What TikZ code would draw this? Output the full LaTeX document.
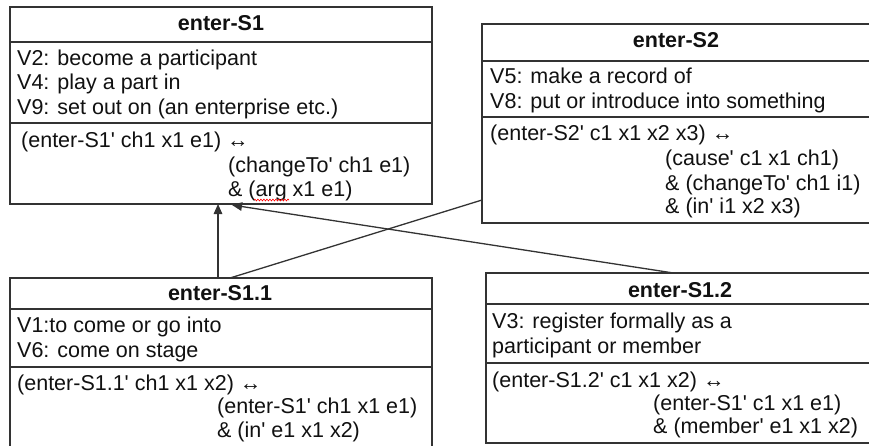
\documentclass[tikz,border=0pt]{standalone}
\usepackage{fontspec}
\newfontfamily\arial{Liberation Sans}
\usetikzlibrary{arrows.meta,decorations.pathmorphing}
\definecolor{linegray}{HTML}{333333}
\definecolor{inkc}{HTML}{111111}
\begin{document}
\begin{tikzpicture}[x=1pt,y=-1pt,
  frame/.style={draw=linegray, line width=1.3pt, inner sep=0pt, outer sep=0pt, anchor=north west},
  divider/.style={draw=linegray, line width=1.3pt},
  title/.style={font=\arial\fontsize{21.5}{24}\selectfont\bfseries, text=inkc, anchor=base, inner sep=0pt},
  txt/.style={font=\arial\fontsize{21.5}{24}\selectfont, text=inkc, anchor=base west, inner sep=0pt},
  conn/.style={draw=linegray, line width=1.3pt},
  tipped/.style={-{Triangle[length=10pt,width=8.5pt]}}]
\useasboundingbox (0,0) rectangle (869,445);
\clip (0,0) rectangle (869,445);
\fill[white] (0,0) rectangle (869,445);

% ---------- enter-S1 ----------
\node[frame, minimum width=422pt, minimum height=197pt] (s1) at (10,7) {};
\draw[divider] (10,42) -- (432,42);
\draw[divider] (10,123) -- (432,123);
\node[title] (s1t) at (221,30) {enter-S1};
\node[txt] (s1a) at (17,65) {V2: become a participant};
\node[txt] (s1b) at (17,89) {V4: play a part in};
\node[txt] (s1c) at (17,114) {V9: set out on (an enterprise etc.)};
\node[txt] (s1d) at (21,147) {(enter-S1' ch1 x1 e1) ↔};
\node[txt] (s1e) at (228,172) {(changeTo' ch1 e1)};
\node[txt] (s1f) at (228,196) {\& (arg x1 e1)};
\draw[red, line width=0.6pt, decorate, decoration={snake, amplitude=0.9pt, segment length=3pt}] (254,200) -- (289,200);

% ---------- enter-S2 ----------
\node[frame, minimum width=393pt, minimum height=199pt] (s2) at (482,24) {};
\draw[divider] (482,61) -- (875,61);
\draw[divider] (482,117) -- (875,117);
\node[title] (s2t) at (676,47) {enter-S2};
\node[txt] (s2a) at (490,83) {V5: make a record of};
\node[txt] (s2b) at (490,108) {V8: put or introduce into something};
\node[txt] (s2c) at (490,140) {(enter-S2' c1 x1 x2 x3) ↔};
\node[txt] (s2d) at (665,165) {(cause' c1 x1 ch1)};
\node[txt] (s2e) at (665,190) {\& (changeTo' ch1 i1)};
\node[txt] (s2f) at (665,213) {\& (in' i1 x2 x3)};

% ---------- enter-S1.1 ----------
\node[frame, minimum width=422pt, minimum height=190pt] (s11) at (10,278) {};
\draw[divider] (10,309) -- (432,309);
\draw[divider] (10,367) -- (432,367);
\node[title] (s11t) at (220,300) {enter-S1.1};
\node[txt] (s11a) at (17,332) {V1:to come or go into};
\node[txt] (s11b) at (17,357) {V6: come on stage};
\node[txt] (s11c) at (17,390) {(enter-S1.1' ch1 x1 x2) ↔};
\node[txt] (s11d) at (217,413) {(enter-S1' ch1 x1 e1)};
\node[txt] (s11e) at (217,437) {\& (in' e1 x1 x2)};

% ---------- enter-S1.2 ----------
\node[frame, minimum width=389pt, minimum height=170pt] (s12) at (486,273) {};
\draw[divider] (486,304) -- (875,304);
\draw[divider] (486,363) -- (875,363);
\node[title] (s12t) at (680,297) {enter-S1.2};
\node[txt] (s12a) at (492,328) {V3: register formally as a};
\node[txt] (s12b) at (492,353) {participant or member};
\node[txt] (s12c) at (492,387) {(enter-S1.2' c1 x1 x2) ↔};
\node[txt] (s12d) at (653,410) {(enter-S1' c1 x1 e1)};
\node[txt] (s12e) at (653,433) {\& (member' e1 x1 x2)};

% ---------- connectors ----------
\coordinate (s11up) at ([xshift=-3pt]s11.north);
\coordinate (s1in) at ([xshift=-3pt]s1.south);
\coordinate (s11out) at ([xshift=9pt]s11.north);
\coordinate (s2in) at ([yshift=-76.5pt]s2.west);
\coordinate (s12up) at ([xshift=-7pt]s12.north);
\coordinate (s1in2) at ([xshift=11pt, yshift=-1pt]s1.south);
\draw[conn, tipped] (s11up) -- (s1in);
\draw[conn] (s11out) -- (s2in);
\draw[conn, tipped] (s12up) -- (s1in2);
\end{tikzpicture}
\end{document}
